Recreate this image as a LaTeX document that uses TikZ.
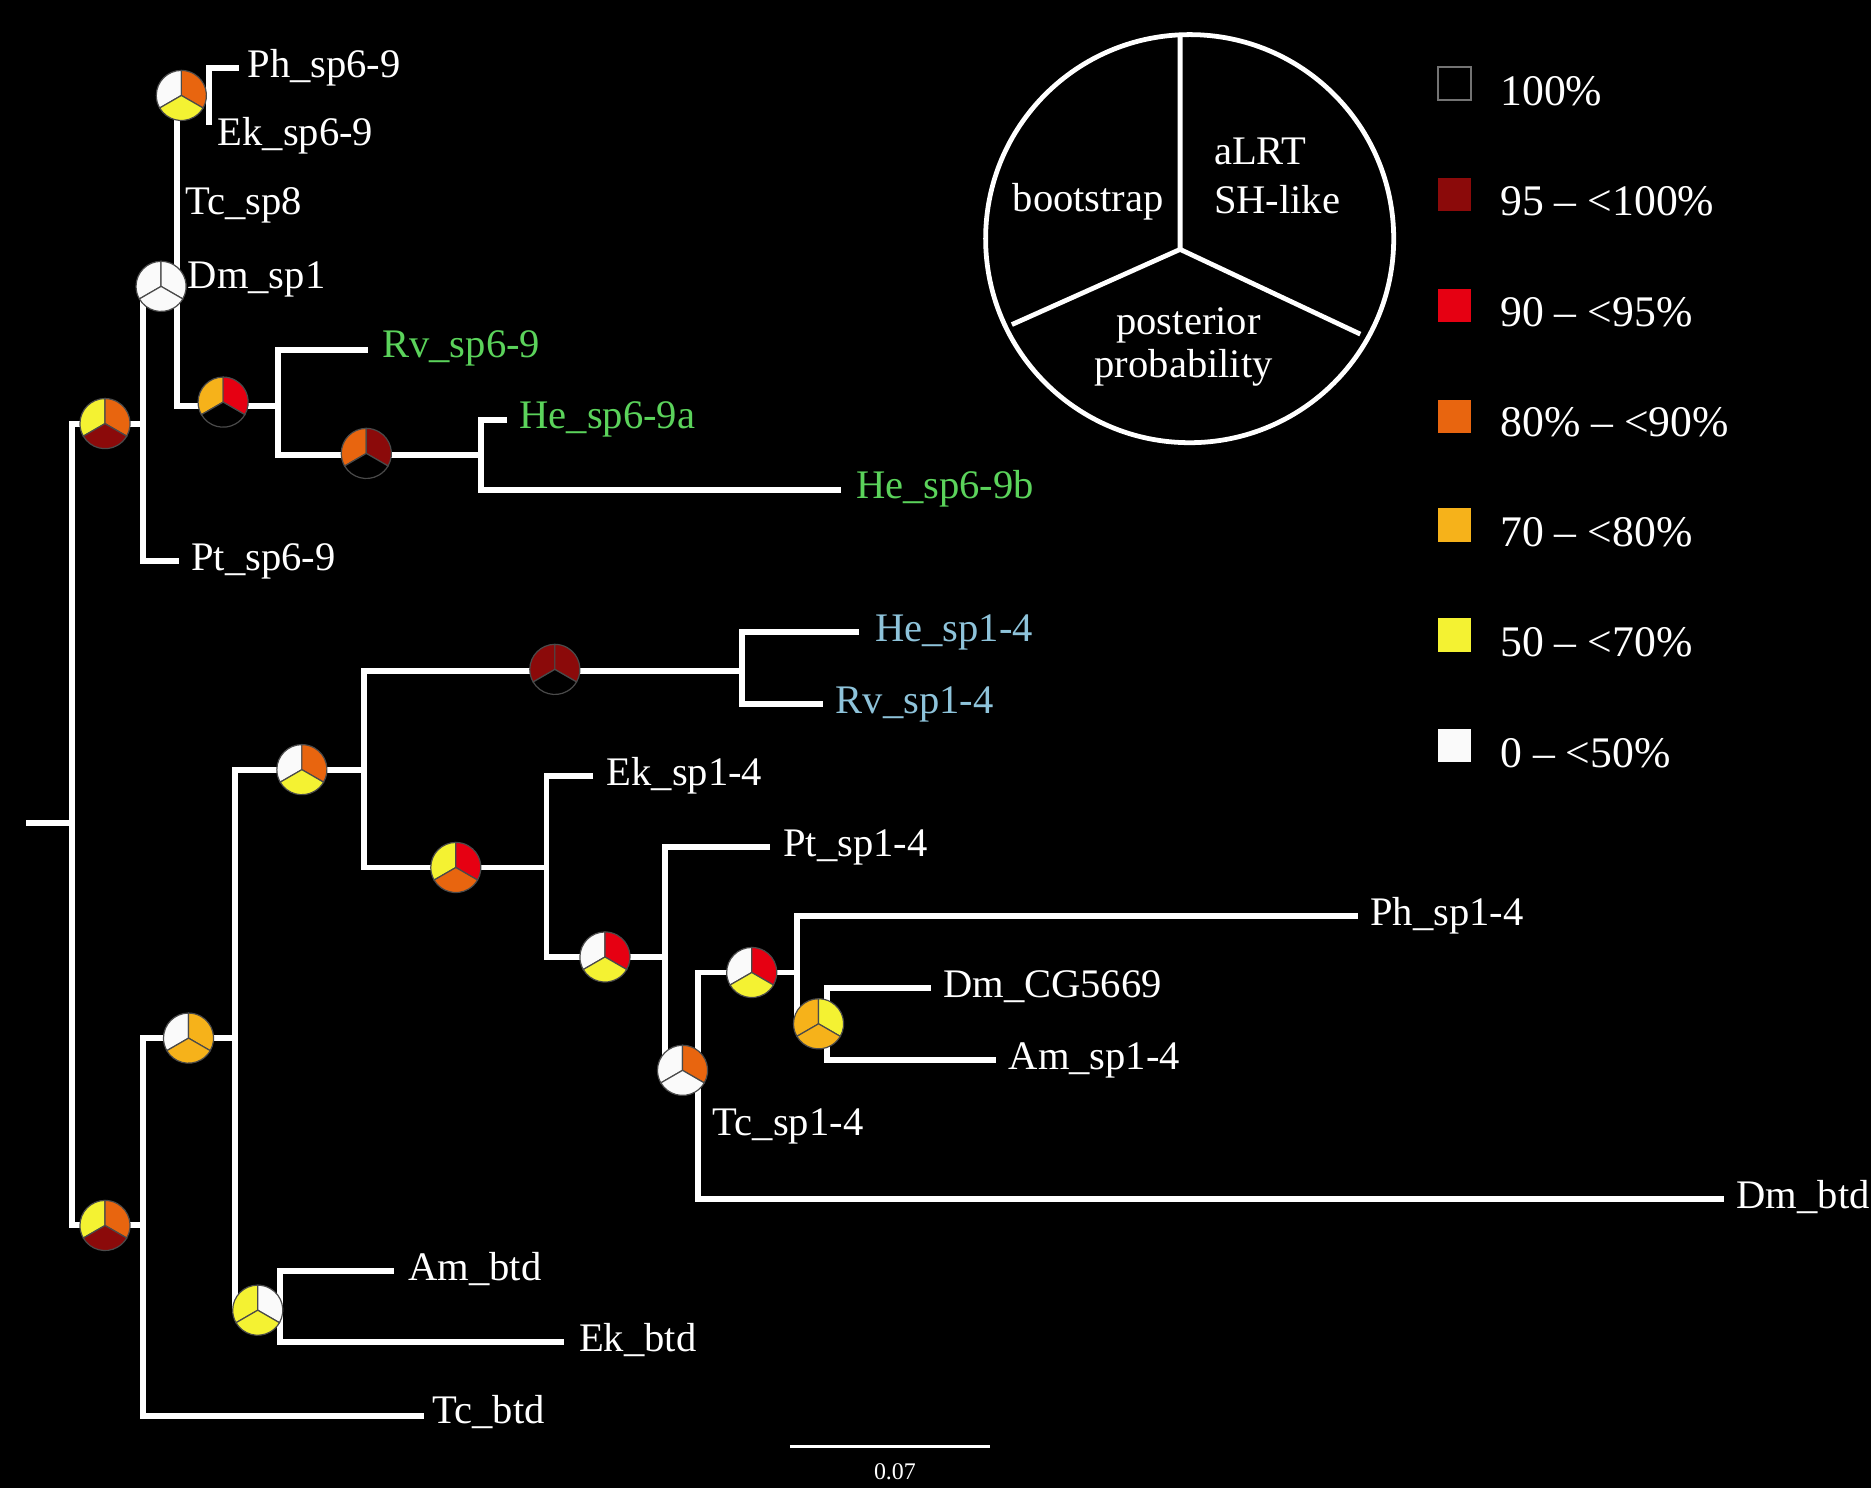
\documentclass[tikz,border=0pt]{standalone}
\usepackage{fontspec}
\setmainfont{Liberation Serif}
\usetikzlibrary{calc}
\definecolor{cDR}{HTML}{8B0A0A}
\definecolor{cR}{HTML}{E60012}
\definecolor{cO}{HTML}{E8650F}
\definecolor{cA}{HTML}{F6B21A}
\definecolor{cY}{HTML}{F4F232}
\definecolor{cW}{HTML}{FAFAFA}
\definecolor{cK}{HTML}{000000}
\definecolor{txtG}{HTML}{5BD35B}
\definecolor{txtB}{HTML}{8EC3DA}
\definecolor{pieline}{HTML}{4A4A4A}
\newcommand{\supportpie}[4]{%
  \begin{scope}[shift={(#1)}]
    \filldraw[fill=#2, draw=pieline, line width=0.5pt] (0,0) -- (90:10.5pt) arc[start angle=90, end angle=210, radius=10.5pt] -- cycle;
    \filldraw[fill=#3, draw=pieline, line width=0.5pt] (0,0) -- (-30:10.5pt) arc[start angle=-30, end angle=90, radius=10.5pt] -- cycle;
    \filldraw[fill=#4, draw=pieline, line width=0.5pt] (0,0) -- (210:10.5pt) arc[start angle=210, end angle=330, radius=10.5pt] -- cycle;
  \end{scope}}
\begin{document}
\begin{tikzpicture}[x=0.5pt, y=-0.5pt,
  branch/.style={draw=white, line width=2.5pt, line join=miter},
  lab/.style={anchor=base west, inner sep=0pt, text=white, font=\fontsize{17}{20}\selectfont},
  labG/.style={lab, text=txtG},
  labB/.style={lab, text=txtB},
  legtxt/.style={inner sep=0pt, text=white, font=\fontsize{17}{20}\selectfont},
  keytxt/.style={inner sep=0pt, text=white, anchor=base west, font=\fontsize{18.3}{21}\selectfont},
  legbox/.style={line width=0.8pt}]
\useasboundingbox (0,0) rectangle (1568,1247);
\fill[black] (0,0) rectangle (1568,1247);

% ---------- internal nodes ----------
\coordinate (R0) at (22,690);
\coordinate (R) at (60,690);
\coordinate (U) at (120,355);
\coordinate (V) at (148,240);
\coordinate (W) at (175,80);
\coordinate (G) at (233,340);
\coordinate (H) at (403,381);
\coordinate (L) at (120,1027);
\coordinate (M) at (197,870);
\coordinate (O) at (235,1098);
\coordinate (N) at (305,645);
\coordinate (Q) at (622,562);
\coordinate (S) at (458,727);
\coordinate (T) at (557,802);
\coordinate (X) at (585,897);
\coordinate (Y) at (668,815);
\coordinate (Z) at (693,858);

% ---------- leaves ----------
\coordinate (PhA) at (200,57);
\coordinate (EkA) at (175,105);
\coordinate (TcA) at (148,171);
\coordinate (DmA) at (148,233);
\coordinate (RvA) at (308,293);
\coordinate (HeA) at (425,352);
\coordinate (HeB) at (705,411);
\coordinate (PtA) at (150,470);
\coordinate (HeC) at (720,530);
\coordinate (RvC) at (690,590);
\coordinate (EkC) at (497,650);
\coordinate (PtC) at (645,710);
\coordinate (PhC) at (1138,768);
\coordinate (DmC) at (780,828);
\coordinate (AmC) at (835,888);
\coordinate (TcC) at (585,935);
\coordinate (DmD) at (1445,1005);
\coordinate (AmD) at (330,1065);
\coordinate (EkD) at (473,1125);
\coordinate (TcD) at (355,1187);

% ---------- branches ----------
\draw[branch] (R0) -- (R);
\draw[branch] (U) -| (R) |- (L);
\draw[branch] (V) -| (U) |- (PtA);
\draw[branch] (W) -| (V) |- (G);
\draw[branch] (PhA) -| (W) |- (EkA);
\draw[branch] (RvA) -| (G) |- (H);
\draw[branch] (HeA) -| (H) |- (HeB);
\draw[branch] (M) -| (L) |- (TcD);
\draw[branch] (N) -| (M) |- (O);
\draw[branch] (AmD) -| (O) |- (EkD);
\draw[branch] (Q) -| (N) |- (S);
\draw[branch] (HeC) -| (Q) |- (RvC);
\draw[branch] (EkC) -| (S) |- (T);
\draw[branch] (PtC) -| (T) |- (X);
\draw[branch] (Y) -| (X) |- (DmD);
\draw[branch] (PhC) -| (Y) |- (Z);
\draw[branch] (DmC) -| (Z) |- (AmC);

% ---------- support pies ----------
\coordinate (p1) at (152,80);
\coordinate (p2) at (135,240);
\coordinate (p3) at (187,337);
\coordinate (p4) at (307,380);
\coordinate (p5) at (88,355);
\coordinate (p6) at (88,1027);
\coordinate (p7) at (158,870);
\coordinate (p8) at (216,1098);
\coordinate (p9) at (253,645);
\coordinate (p10) at (465,561);
\coordinate (p11) at (382,727);
\coordinate (p12) at (507,802);
\coordinate (p13) at (572,897);
\coordinate (p14) at (630,815);
\coordinate (p15) at (686,858);
\supportpie{p1}{cW}{cO}{cY}
\supportpie{p2}{cW}{cW}{cW}
\supportpie{p3}{cA}{cR}{cK}
\supportpie{p4}{cO}{cDR}{cK}
\supportpie{p5}{cY}{cO}{cDR}
\supportpie{p6}{cY}{cO}{cDR}
\supportpie{p7}{cW}{cA}{cA}
\supportpie{p8}{cY}{cW}{cY}
\supportpie{p9}{cW}{cO}{cY}
\supportpie{p10}{cDR}{cDR}{cK}
\supportpie{p11}{cY}{cR}{cO}
\supportpie{p12}{cW}{cR}{cY}
\supportpie{p13}{cW}{cO}{cW}
\supportpie{p14}{cW}{cR}{cY}
\supportpie{p15}{cA}{cY}{cA}

% ---------- leaf labels ----------
\node[lab]  (lPhA) at ($(PhA)+(7,8)$) {Ph\_sp6-9};
\node[lab]  (lEkA) at ($(EkA)+(7,17)$) {Ek\_sp6-9};
\node[lab]  (lTcA) at ($(TcA)+(7,9)$) {Tc\_sp8};
\node[lab]  (lDmA) at ($(DmA)+(9,9)$) {Dm\_sp1};
\node[labG] (lRvA) at ($(RvA)+(12,7)$) {Rv\_sp6-9};
\node[labG] (lHeA) at ($(HeA)+(10,7)$) {He\_sp6-9a};
\node[labG] (lHeB) at ($(HeB)+(12,7)$) {He\_sp6-9b};
\node[lab]  (lPtA) at ($(PtA)+(10,8)$) {Pt\_sp6-9};
\node[labB] (lHeC) at ($(HeC)+(13,8)$) {He\_sp1-4};
\node[labB] (lRvC) at ($(RvC)+(10,8)$) {Rv\_sp1-4};
\node[lab]  (lEkC) at ($(EkC)+(11,8)$) {Ek\_sp1-4};
\node[lab]  (lPtC) at ($(PtC)+(11,8)$) {Pt\_sp1-4};
\node[lab]  (lPhC) at ($(PhC)+(10,8)$) {Ph\_sp1-4};
\node[lab]  (lDmC) at ($(DmC)+(10,8)$) {Dm\_CG5669};
\node[lab]  (lAmC) at ($(AmC)+(10,8)$) {Am\_sp1-4};
\node[lab]  (lTcC) at ($(TcC)+(12,17)$) {Tc\_sp1-4};
\node[lab]  (lDmD) at ($(DmD)+(10,8)$) {Dm\_btd};
\node[lab]  (lAmD) at ($(AmD)+(12,8)$) {Am\_btd};
\node[lab]  (lEkD) at ($(EkD)+(12,8)$) {Ek\_btd};
\node[lab]  (lTcD) at ($(TcD)+(7,6)$) {Tc\_btd};

% ---------- legend pie ----------
\coordinate (LC) at (997,200);
\coordinate (LH) at (989,209);
\coordinate (LT) at (989,29);
\coordinate (LL) at (848,272);
\coordinate (LR) at (1140,280);
\draw[white, line width=2pt] (LC) circle[radius=85.5pt];
\draw[white, line width=2pt] (LT) -- (LH) -- (LL) (LH) -- (LR);
\node[legtxt, anchor=base] (tBoot) at (912,177) {bootstrap};
\node[legtxt, anchor=base west] (tALRT) at (1017,138) {aLRT};
\node[legtxt, anchor=base west] (tSH) at (1017,179) {SH-like};
\node[legtxt, anchor=base] (tPost) at (996,280) {posterior};
\node[legtxt, anchor=base] (tProb) at (992,316) {probability};

% ---------- colour legend ----------
\filldraw[legbox, fill=black, draw=black!55] (1205,56) rectangle (1233,84);
\fill[cDR] (1205,149) rectangle (1233,177);
\fill[cR]  (1205,242) rectangle (1233,270);
\fill[cO]  (1205,335) rectangle (1233,363);
\fill[cA]  (1205,426) rectangle (1233,454);
\fill[cY]  (1205,518) rectangle (1233,546);
\fill[cW]  (1205,611) rectangle (1233,639);
\node[keytxt] (k1) at (1257,88)  {100\%};
\node[keytxt] (k2) at (1257,181) {95 – <100\%};
\node[keytxt] (k3) at (1257,274) {90 – <95\%};
\node[keytxt] (k4) at (1257,366) {80\% – <90\%};
\node[keytxt] (k5) at (1257,458) {70 – <80\%};
\node[keytxt] (k6) at (1257,550) {50 – <70\%};
\node[keytxt] (k7) at (1257,643) {0 – <50\%};

% ---------- scale bar ----------
\coordinate (SB1) at (662,1212);
\coordinate (SB2) at (830,1212);
\draw[white, line width=1.2pt] (SB1) -- (SB2);
\node[inner sep=0pt, anchor=base, text=white, font=\fontsize{10}{12}\selectfont] (sbl) at (750,1240) {0.07};
\end{tikzpicture}
\end{document}
